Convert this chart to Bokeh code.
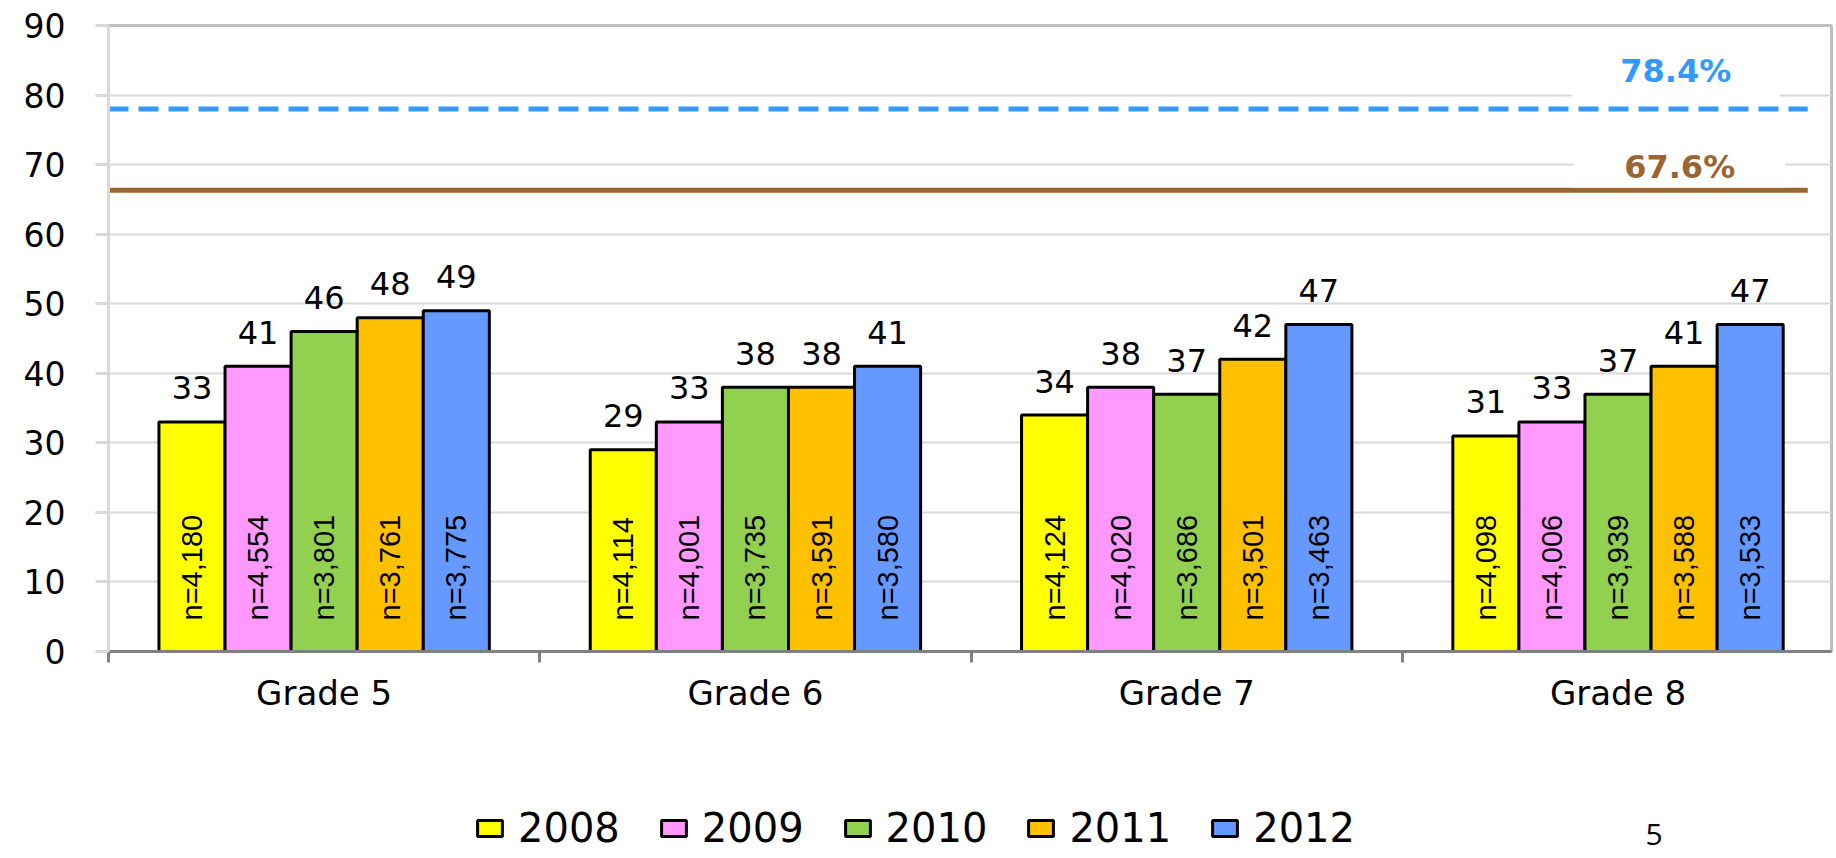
import numpy as np
from bokeh.plotting import figure
from bokeh.layouts import column
from bokeh.models import (Range1d, FixedTicker, Legend, LegendItem, Label,
                          ColumnDataSource)
from bokeh.core.properties import value
from bokeh.embed import file_html
from bokeh.resources import INLINE

# ---------------- data ----------------
grades = ["Grade 5", "Grade 6", "Grade 7", "Grade 8"]
years = ["2008", "2009", "2010", "2011", "2012"]

pct_2008 = [33, 29, 34, 31]
pct_2009 = [41, 33, 38, 33]
pct_2010 = [46, 38, 37, 37]
pct_2011 = [48, 38, 42, 41]
pct_2012 = [49, 41, 47, 47]

n_2008 = [4180, 4114, 4124, 4098]
n_2009 = [4554, 4001, 4020, 4006]
n_2010 = [3801, 3735, 3686, 3939]
n_2011 = [3761, 3591, 3501, 3588]
n_2012 = [3775, 3580, 3463, 3533]

ref_labels = ["78.4%", "67.6%"]
ref_levels = [78.0, 66.3]   # drawn positions

y_ticks = [0, 10, 20, 30, 40, 50, 60, 70, 80, 90]
page_number = "5"

# ---------------- style ----------------
bar_colors = ["#FFFF00", "#FF99FF", "#92D050", "#FFC000", "#6699FF"]
ref_colors = ["#3399FF", "#996633"]
FONT = "DejaVu Sans"
NFONT = "Liberation Sans"
bar_w = 0.1532
W = 1834
H_MAIN = 730
H_LEG = 126

pcts = [pct_2008, pct_2009, pct_2010, pct_2011, pct_2012]
ns = [n_2008, n_2009, n_2010, n_2011, n_2012]

p = figure(width=W, height=H_MAIN, x_range=Range1d(0, 3.995),
           y_range=Range1d(0, 90), output_backend="svg",
           toolbar_location=None, title=None,
           min_border_left=108, min_border_right=3,
           min_border_top=25, min_border_bottom=79)
p.background_fill_color = "white"
p.border_fill_color = "white"
p.outline_line_color = "#bfbfbf"
p.outline_line_width = 3

# grid
p.xgrid.grid_line_color = None
p.ygrid.grid_line_color = "#d9d9d9"
p.ygrid.grid_line_width = 2

# y axis
p.yaxis.ticker = FixedTicker(ticks=y_ticks)
p.yaxis.axis_line_color = "#d9d9d9"
p.yaxis.axis_line_width = 3
p.yaxis.major_tick_line_color = "#d9d9d9"
p.yaxis.major_tick_line_width = 3
p.yaxis.major_tick_out = 13
p.yaxis.major_tick_in = 0
p.yaxis.minor_tick_line_color = None
p.yaxis.major_label_standoff = 30
p.yaxis.major_label_text_font = FONT
p.yaxis.major_label_text_font_size = "33px"
p.yaxis.major_label_text_color = "black"

# x axis: labels at category centres, tick marks at category boundaries
centres = [i + 0.5 for i in range(len(grades))]
bounds = [i for i in range(len(grades) + 1)]
p.xaxis.ticker = FixedTicker(ticks=centres, minor_ticks=bounds)
p.xaxis.major_label_overrides = {c: g for c, g in zip(centres, grades)}
p.xaxis.major_tick_line_color = None
p.xaxis.major_tick_out = 0
p.xaxis.major_tick_in = 0
p.xaxis.minor_tick_line_color = "#808080"
p.xaxis.minor_tick_line_width = 3
p.xaxis.minor_tick_out = 11
p.xaxis.minor_tick_in = 0
p.xaxis.axis_line_color = "#808080"
p.xaxis.axis_line_width = 3
p.xaxis.major_label_standoff = 10
p.xaxis.major_label_text_font = FONT
p.xaxis.major_label_text_font_size = "34px"
p.xaxis.major_label_text_color = "black"

# bars
sources = []
for j, yr in enumerate(years):
    xs = np.arange(len(grades)) + 0.5 + (j - 2) * bar_w
    src = ColumnDataSource(dict(
        x=xs, top=pcts[j],
        pct_text=[str(v) for v in pcts[j]],
        n_text=[f"n={n:,}" for n in ns[j]],
    ))
    sources.append(src)
    p.vbar(x="x", top="top", bottom=0, width=bar_w, source=src,
           fill_color=bar_colors[j], line_color="black", line_width=3)
    p.text(x="x", y="top", text="pct_text", source=src,
           text_align="center", text_baseline="alphabetic", y_offset=-34,
           text_font=value(FONT), text_font_size="32px", text_color="black")
    p.text(x="x", y=0, text="n_text", source=src, angle=np.pi / 2,
           text_align="left", text_baseline="middle", y_offset=-31,
           text_font=value(NFONT), text_font_size="29px",
           text_color="black")

# reference lines
p.segment(x0=0, x1=3.94, y0=ref_levels[0], y1=ref_levels[0],
          line_color=ref_colors[0], line_width=5, line_dash="20 10")
p.segment(x0=0, x1=3.94, y0=ref_levels[1], y1=ref_levels[1],
          line_color=ref_colors[1], line_width=5)

# reference labels with white boxes hiding the gridlines
lab_x = [3.634, 3.643]
lab_y = [83.5, 69.6]
box_w = [208, 212]
box_h = [56, 40]
for k in range(2):
    p.rect(x=lab_x[k], y=lab_y[k], width=box_w[k], height=box_h[k],
           width_units="screen", height_units="screen",
           fill_color="white", line_color=None)
    p.add_layout(Label(x=lab_x[k], y=lab_y[k], text=ref_labels[k],
                       text_align="center", text_baseline="middle",
                       text_font=FONT, text_font_style="bold",
                       text_font_size="32px", text_color=ref_colors[k]))

# ---------------- legend strip ----------------
q = figure(width=W, height=H_LEG, x_range=Range1d(108, 1831),
           y_range=Range1d(0, H_LEG), output_backend="svg",
           toolbar_location=None, title=None,
           x_axis_location=None, y_axis_location=None,
           min_border_left=0, min_border_right=0,
           min_border_top=0, min_border_bottom=0)
q.grid.grid_line_color = None
q.outline_line_color = None
q.background_fill_color = "white"
q.border_fill_color = "white"

# legend entries reuse the bar data; the renderers themselves stay hidden
items = []
for j, yr in enumerate(years):
    r = q.vbar(x="x", top="top", bottom=0, width=bar_w, source=sources[j],
               fill_color=bar_colors[j], line_color="black", line_width=3)
    r.visible = False
    items.append(LegendItem(label=yr, renderers=[r]))

legend = Legend(items=items, orientation="horizontal", location=(366, 5),
                glyph_width=31, glyph_height=20, label_standoff=13,
                spacing=38, padding=0, margin=0,
                border_line_alpha=0, background_fill_alpha=0,
                inactive_fill_alpha=0,
                label_text_font=FONT, label_text_font_size="40px",
                label_text_color="black")
q.add_layout(legend, "center")

q.add_layout(Label(x=1645, y=22, text=page_number, text_align="left",
                   text_baseline="alphabetic", text_font="Open Sans",
                   text_font_size="30px", text_color="black"))

layout = column(p, q, spacing=0)
open("out.html", "w").write(file_html(layout, INLINE))
